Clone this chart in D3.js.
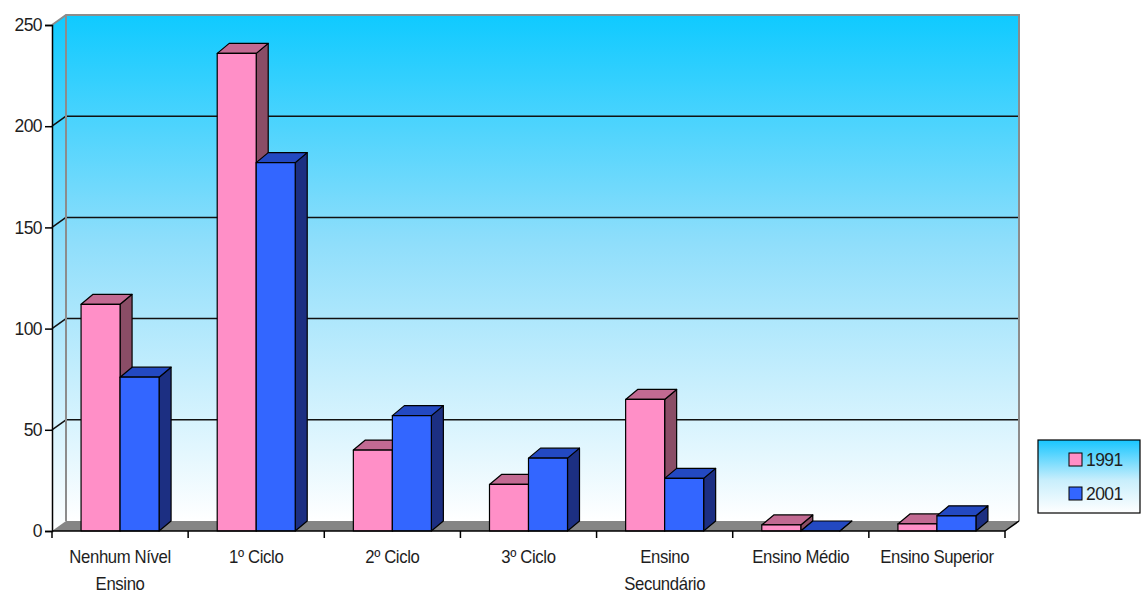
<!DOCTYPE html>
<html>
<head>
<meta charset="utf-8">
<script src="https://cdn.jsdelivr.net/npm/d3@7/dist/d3.min.js"></script>
<style>
  html, body { margin: 0; padding: 0; background: #fff; }
  svg { display: block; }
  text { font-family: "Liberation Sans", Arial, sans-serif; fill: #1e1e1e; }
</style>
</head>
<body>
<script>
// Education level counts, 1991 vs 2001
const categories = [
  ["Nenhum Nível", "Ensino"],
  ["1º Ciclo"],
  ["2º Ciclo"],
  ["3º Ciclo"],
  ["Ensino", "Secundário"],
  ["Ensino Médio"],
  ["Ensino Superior"]
];
const seriesNames = ["1991", "2001"];
const values1991 = [112, 236, 40, 23, 65, 3, 3.5];
const values2001 = [76, 182, 57, 36, 26, 0, 7.5];
const yTicks = [0, 50, 100, 150, 200, 250];

const W = 1142, H = 593;
const plotLeft = 52, plotRight = 1005, plotTop = 25, plotBottom = 531;
const WX = 14, WY = 10;    // wall depth offset
const BX = 12, BY = 10;    // bar depth offset

const colors = {
  "1991": { front: "#ff8fc7", top: "#c26a92", side: "#8a4d66" },
  "2001": { front: "#3366ff", top: "#2349c2", side: "#1c2f82" }
};

const svg = d3.select("body").append("svg").attr("width", W).attr("height", H);
const defs = svg.append("defs");

const grad = defs.append("linearGradient").attr("id", "wallGrad")
  .attr("x1", 0).attr("y1", 0).attr("x2", 0).attr("y2", 1);
grad.append("stop").attr("offset", "0%").attr("stop-color", "#0fcaff");
grad.append("stop").attr("offset", "45%").attr("stop-color", "#8fdefb");
grad.append("stop").attr("offset", "100%").attr("stop-color", "#ffffff");

const lgGrad = defs.append("linearGradient").attr("id", "legGrad")
  .attr("x1", 0).attr("y1", 0).attr("x2", 0).attr("y2", 1);
lgGrad.append("stop").attr("offset", "0%").attr("stop-color", "#18c6ff");
lgGrad.append("stop").attr("offset", "55%").attr("stop-color", "#c8eefc");
lgGrad.append("stop").attr("offset", "100%").attr("stop-color", "#ffffff");

const y = d3.scaleLinear().domain([0, 250]).range([plotBottom, plotTop]);
const x = d3.scaleBand().domain(d3.range(categories.length)).range([plotLeft, plotRight])
  .paddingInner(0.427).paddingOuter(0.2135);
const xs = d3.scaleBand().domain(seriesNames).range([0, x.bandwidth()]);
const step = x.step();

// back wall and left side wall
svg.append("rect")
  .attr("x", plotLeft + WX).attr("y", plotTop - WY)
  .attr("width", plotRight - plotLeft).attr("height", plotBottom - plotTop)
  .attr("fill", "url(#wallGrad)");
svg.append("path")
  .attr("d", `M${plotLeft},${plotTop} L${plotLeft + WX},${plotTop - WY} L${plotLeft + WX},${plotBottom - WY} L${plotLeft},${plotBottom} Z`)
  .attr("fill", "url(#wallGrad)");

// gridlines
const gl = svg.append("g");
yTicks.filter(t => t > 0 && t < 250).forEach(t => {
  gl.append("line")
    .attr("x1", plotLeft + WX).attr("x2", plotRight + WX)
    .attr("y1", y(t) - WY).attr("y2", y(t) - WY)
    .attr("stroke", "#111").attr("stroke-width", 1.5);
  gl.append("line")
    .attr("x1", plotLeft).attr("x2", plotLeft + WX)
    .attr("y1", y(t)).attr("y2", y(t) - WY)
    .attr("stroke", "#111").attr("stroke-width", 1.5);
});

// wall edges
svg.append("path")
  .attr("d", `M${plotLeft},${plotTop} L${plotLeft + WX},${plotTop - WY} L${plotRight + WX},${plotTop - WY} L${plotRight + WX},${plotBottom - WY}`)
  .attr("fill", "none").attr("stroke", "#8c8c8c").attr("stroke-width", 2);
svg.append("line")
  .attr("x1", plotLeft + WX).attr("x2", plotLeft + WX)
  .attr("y1", plotTop - WY).attr("y2", plotBottom - WY)
  .attr("stroke", "#8c8c8c").attr("stroke-width", 2);

// floor
svg.append("path")
  .attr("d", `M${plotLeft},${plotBottom} L${plotLeft + WX},${plotBottom - WY} L${plotRight + WX},${plotBottom - WY} L${plotRight},${plotBottom} Z`)
  .attr("fill", "#858585");

// bars
const bars = svg.append("g");
categories.forEach((c, i) => {
  [["1991", values1991[i]], ["2001", values2001[i]]].forEach(([s, v]) => {
    const x0 = x(i) + xs(s), x1 = x0 + xs.bandwidth();
    const yt = y(v);
    const col = colors[s];
    const g = bars.append("g").attr("stroke", "#000").attr("stroke-width", 1.2).attr("stroke-linejoin", "round");
    g.append("path")
      .attr("d", `M${x1},${plotBottom} L${x1 + BX},${plotBottom - BY} L${x1 + BX},${yt - BY} L${x1},${yt} Z`)
      .attr("fill", col.side);
    g.append("path")
      .attr("d", `M${x0},${yt} L${x0 + BX},${yt - BY} L${x1 + BX},${yt - BY} L${x1},${yt} Z`)
      .attr("fill", col.top);
    if (v > 0) {
      g.append("rect")
        .attr("x", x0).attr("y", yt)
        .attr("width", x1 - x0).attr("height", plotBottom - yt)
        .attr("fill", col.front);
    }
  });
});

// y axis
const yAxis = d3.axisLeft(y).tickValues(yTicks).tickSize(7).tickPadding(3).tickFormat(d3.format("d"));
const ya = svg.append("g").attr("transform", `translate(${plotLeft},0)`).call(yAxis);
ya.attr("font-family", null).attr("font-size", null);
ya.select(".domain").attr("stroke", "#000").attr("stroke-width", 1.5);
ya.selectAll(".tick line").attr("stroke", "#000").attr("stroke-width", 1.5);
ya.selectAll(".tick text").attr("font-size", 17.5).attr("fill", "#1e1e1e")
  .attr("letter-spacing", -0.6);

// x axis: baseline, boundary ticks and labels
svg.append("line")
  .attr("x1", plotLeft).attr("x2", plotRight).attr("y1", plotBottom).attr("y2", plotBottom)
  .attr("stroke", "#000").attr("stroke-width", 1.5);
svg.append("line")
  .attr("x1", plotRight).attr("x2", plotRight + WX).attr("y1", plotBottom).attr("y2", plotBottom - WY)
  .attr("stroke", "#000").attr("stroke-width", 1.5);
d3.range(categories.length + 1).forEach(k => {
  const tx = plotLeft + k * step;
  svg.append("line")
    .attr("x1", tx).attr("x2", tx).attr("y1", plotBottom).attr("y2", plotBottom + 7)
    .attr("stroke", "#000").attr("stroke-width", 1.5);
});
categories.forEach((lines, i) => {
  const cx = plotLeft + (i + 0.5) * step;
  lines.forEach((ln, j) => {
    svg.append("text")
      .attr("transform", `translate(${cx},${563 + j * 27}) scale(0.93,1)`)
      .attr("text-anchor", "middle").attr("font-size", 18)
      .attr("letter-spacing", -0.4)
      .text(ln);
  });
});

// legend
const lg = svg.append("g").attr("transform", "translate(1038,440)");
lg.append("rect").attr("width", 102).attr("height", 73)
  .attr("fill", "url(#legGrad)").attr("stroke", "#000").attr("stroke-width", 1.2);
seriesNames.forEach((s, k) => {
  const row = lg.append("g").attr("transform", `translate(31,${13 + k * 34})`);
  row.append("rect").attr("width", 13).attr("height", 13)
    .attr("fill", colors[s].front).attr("stroke", "#000").attr("stroke-width", 1);
  row.append("text").attr("x", 17).attr("y", 13).attr("font-size", 17.5)
    .attr("letter-spacing", -0.6).text(s);
});
</script>
</body>
</html>
